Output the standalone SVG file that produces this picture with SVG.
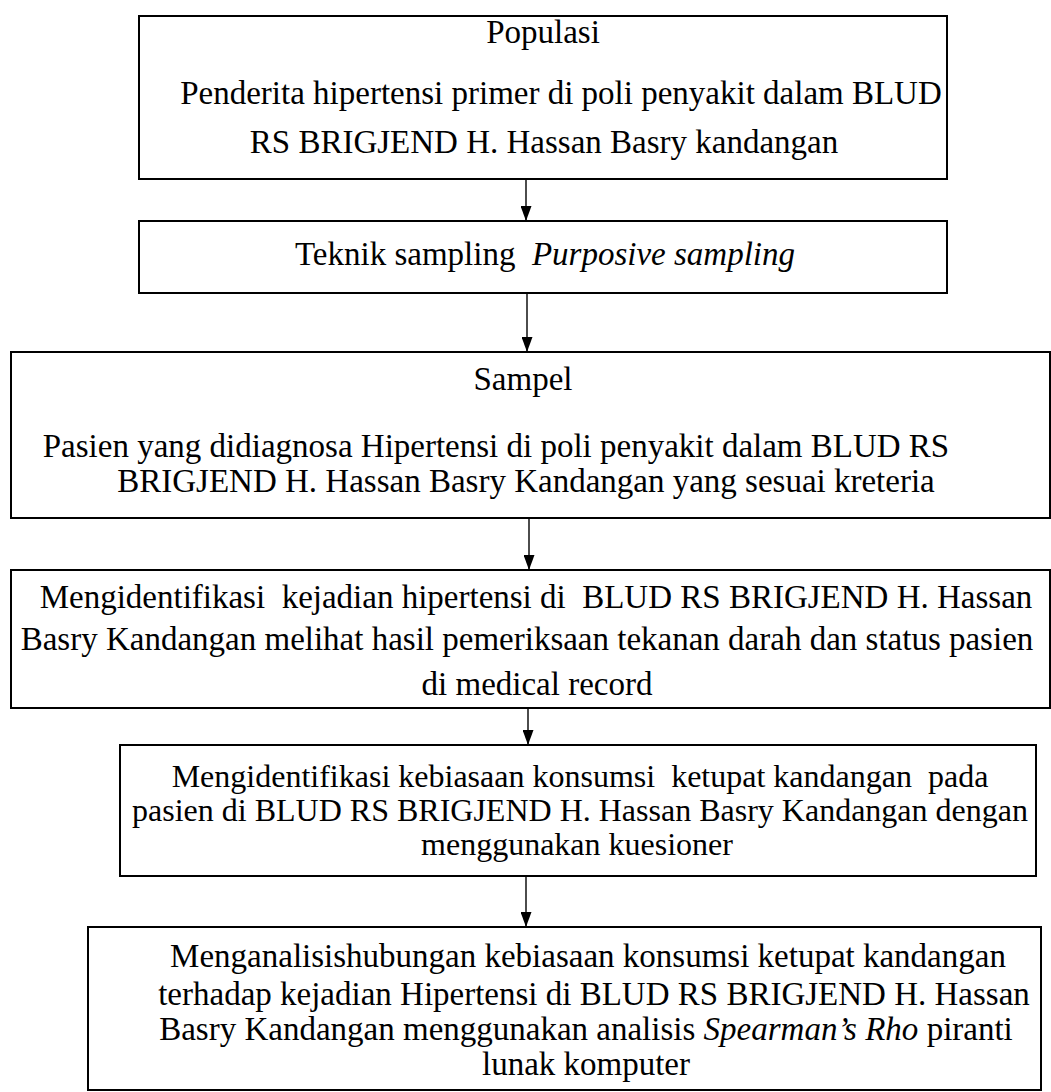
<svg xmlns="http://www.w3.org/2000/svg" width="1051" height="1092" viewBox="0 0 1051 1092" xml:space="preserve">
<style>
.box{fill:#fff;stroke:#000;stroke-width:2}
.t{font-family:"Liberation Serif","Times New Roman",serif;font-size:33px;fill:#000;text-anchor:middle;white-space:pre}
.s{font-size:32px}
.i{font-style:italic}
.c{stroke:#000;stroke-width:1.4;fill:none}
</style>
<defs>
<marker id="arr" markerWidth="15" markerHeight="11" refX="15" refY="5.5" orient="auto" markerUnits="userSpaceOnUse" viewBox="0 0 15 11">
<path d="M0,0 L15,5.5 L0,11 Z" fill="#000"/>
</marker>
</defs>
<rect width="1051" height="1092" fill="#fff"/>
<g id="connectors">
<line class="c" x1="526" y1="179" x2="526" y2="221" marker-end="url(#arr)"/>
<line class="c" x1="527" y1="293" x2="527" y2="352" marker-end="url(#arr)"/>
<line class="c" x1="529" y1="519" x2="529" y2="570" marker-end="url(#arr)"/>
<line class="c" x1="528" y1="708" x2="528" y2="745" marker-end="url(#arr)"/>
<line class="c" x1="526" y1="876" x2="526" y2="927" marker-end="url(#arr)"/>
</g>
<g id="n1">
<rect class="box" x="139" y="16" width="808" height="163"/>
<text class="t" x="543" y="43">Populasi</text>
<text class="t" x="561" y="104">Penderita hipertensi primer di poli penyakit dalam BLUD</text>
<text class="t" x="544" y="153">RS BRIGJEND H. Hassan Basry kandangan</text>
</g>
<g id="n2">
<rect class="box" x="139" y="221" width="808" height="72"/>
<text class="t" x="545" y="265">Teknik sampling  <tspan class="i">Purposive sampling</tspan></text>
</g>
<g id="n3">
<rect class="box" x="11" y="352" width="1039" height="166"/>
<text class="t" x="523" y="390">Sampel</text>
<text class="t" x="496" y="457">Pasien yang didiagnosa Hipertensi di poli penyakit dalam BLUD RS</text>
<text class="t" x="526" y="492">BRIGJEND H. Hassan Basry Kandangan yang sesuai kreteria</text>
</g>
<g id="n4">
<rect class="box" x="11" y="570" width="1039" height="138"/>
<text class="t" x="536" y="608">Mengidentifikasi  kejadian hipertensi di  BLUD RS BRIGJEND H. Hassan</text>
<text class="t" x="527" y="650">Basry Kandangan melihat hasil pemeriksaan tekanan darah dan status pasien</text>
<text class="t" x="537" y="695">di medical record</text>
</g>
<g id="n5">
<rect class="box" x="120" y="745" width="916" height="131"/>
<text class="t s" x="580" y="787">Mengidentifikasi kebiasaan konsumsi  ketupat kandangan  pada</text>
<text class="t s" x="580" y="821">pasien di BLUD RS BRIGJEND H. Hassan Basry Kandangan dengan</text>
<text class="t s" x="577" y="855">menggunakan kuesioner</text>
</g>
<g id="n6">
<rect class="box" x="88" y="927" width="953" height="163"/>
<text class="t" x="588" y="967">Menganalisishubungan kebiasaan konsumsi ketupat kandangan</text>
<text class="t" x="594" y="1005">terhadap kejadian Hipertensi di BLUD RS BRIGJEND H. Hassan</text>
<text class="t" x="586" y="1040">Basry Kandangan menggunakan analisis <tspan class="i">Spearman’s Rho</tspan> piranti</text>
<text class="t" x="586" y="1075">lunak komputer</text>
</g>
</svg>
